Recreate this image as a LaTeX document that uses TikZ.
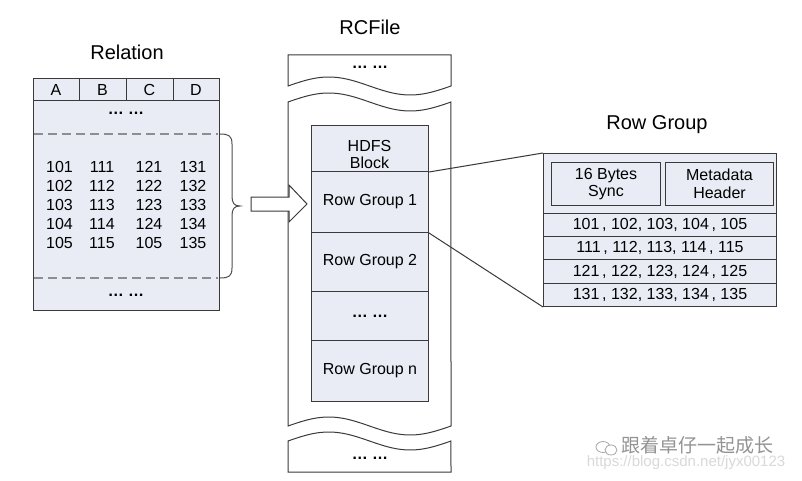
\documentclass[tikz,border=0pt]{standalone}
\usepackage{fontspec}
\setmainfont{Liberation Sans}
\newfontfamily\cjk{Noto Sans CJK SC}
\definecolor{boxfill}{HTML}{E9ECF5}
\definecolor{linec}{HTML}{3A3A3A}
\definecolor{dashc}{HTML}{8E8E8E}
\begin{document}
\begin{tikzpicture}[x=1pt,y=-1pt,
  box/.style={draw=linec, fill=boxfill, line width=1pt, inner sep=0pt, anchor=north west, align=center, font=\fontsize{16}{17.5}\selectfont},
  txt/.style={inner sep=0pt, font=\fontsize{16}{17}\selectfont},
  ttl/.style={inner sep=0pt, font=\fontsize{20}{22}\selectfont},
  dots/.style={inner sep=0pt, font=\fontsize{16}{17}\selectfont\bfseries},
  line/.style={draw=linec, line width=1pt}]
\useasboundingbox (0,0) rectangle (802,481);
\fill[white] (0,0) rectangle (802,481);

% ---------------- Relation ----------------
\node[ttl] (reltitle) at (127,52) {Relation};
\node[box, minimum width=186pt, minimum height=232pt] (rel) at (33,78) {};
\draw[line] (33,101) -- (219,101);
\foreach \x in {79,126,173} \draw[line] (\x,78) -- (\x,101);
\node[txt] (hA) at (56,90) {A};
\node[txt] (hB) at (102.5,90) {B};
\node[txt] (hC) at (149.5,90) {C};
\node[txt] (hD) at (196,90) {D};
\node[dots] (rdots1) at (126,113) {… …};
\draw[dashc, line width=2.5pt, dash pattern=on 9pt off 5pt] (34,134) -- (218,134);
\draw[dashc, line width=2.5pt, dash pattern=on 9pt off 5pt] (34,278) -- (218,278);
\foreach \y/\a/\b/\c/\d in {167/101/111/121/131,186/102/112/122/132,205/103/113/123/133,224/104/114/124/134,243/105/115/105/135}{
  \node[txt] at (59.5,\y) {\a};
  \node[txt] at (102,\y) {\b};
  \node[txt] at (149,\y) {\c};
  \node[txt] at (193,\y) {\d};
}
\node[dots] (rdots2) at (126,295) {… …};
% brace
\draw[line, draw=linec!90] (220,134) .. controls (229,134) and (232,136) .. (232,144) -- (232,196)
  .. controls (232,203) and (234,206) .. (240,206)
  .. controls (234,206) and (232,209) .. (232,216) -- (232,268)
  .. controls (232,276) and (229,278) .. (220,278);

% ---------------- RCFile ----------------
\node[ttl] (rctitle) at (370,27) {RCFile};
% top piece
\draw[line, fill=white] (288,55) -- (451,55) -- (451,86)
  -- plot[domain=1:0, samples=40, smooth] ({288+163*\x},{86-9*sin(360*\x)}) -- cycle;
\node[dots] (tdots) at (370,67) {… …};
% body
\draw[line, fill=white] plot[domain=0:1, samples=40, smooth] ({288+163*\x},{102-9*sin(360*\x)})
  -- (451,426) -- plot[domain=1:0, samples=40, smooth] ({288+163*\x},{426-9*sin(360*\x)}) -- cycle;
% bottom piece
\draw[line, fill=white] plot[domain=0:1, samples=40, smooth] ({288+163*\x},{441-9*sin(360*\x)})
  -- (451,472) -- (288,472) -- cycle;
\node[dots] (bdots) at (370,458) {… …};

\node[box, minimum width=117pt, minimum height=46pt] (hdfs) at (311,125) {};
\node[txt, align=center] (hdfslbl) at (369.5,154) {HDFS\\Block};
\node[box, minimum width=117pt, minimum height=61pt] (rg1) at (311,171) {Row Group 1};
\node[box, minimum width=117pt, minimum height=59pt] (rg2) at (311,232) {Row Group 2};
\node[box, minimum width=117pt, minimum height=49pt, font=\fontsize{16}{17}\selectfont\bfseries] (rgd) at (311,291) {… …};
\node[box, minimum width=117pt, minimum height=61pt] (rgn) at (311,340) {Row Group n};

% arrow
\draw[line, fill=white] (251,197) -- (289,197) -- (289,185) -- (307,204) -- (289,222) -- (289,211) -- (251,211) -- cycle;

% ---------------- Row Group ----------------
\node[ttl] (rgtitle) at (657,125) {Row Group};
\node[box, minimum width=233pt, minimum height=153pt] (rg) at (543,153) {};
\node[box, minimum width=109pt, minimum height=43pt] (sync) at (551,162) {16 Bytes\\Sync};
\node[box, minimum width=108pt, minimum height=43pt] (meta) at (665,162) {Metadata\\Header};
\node[box, minimum width=233pt, minimum height=23pt] (r1) at (543,213) {101\,, 102, 103, 104\,, 105};
\node[box, minimum width=233pt, minimum height=23pt] (r2) at (543,236) {111\,, 112, 113, 114\,, 115};
\node[box, minimum width=233pt, minimum height=24pt] (r3) at (543,259) {121\,, 122, 123, 124\,, 125};
\node[box, minimum width=233pt, minimum height=23pt] (r4) at (543,283) {131\,, 132, 133, 134\,, 135};

% connectors
\draw[line] (hdfs.south east) -- (rg.north west);
\draw[line] (rg1.south east) -- (rg.south west);

% ---------------- watermark ----------------
\draw[gray!70, line width=0.8pt] (603,447) ellipse (7pt and 5.5pt);
\draw[gray!70, line width=0.8pt, fill=white] (611,450) ellipse (6pt and 5pt);
\node[inner sep=0pt, text=gray!85, font=\cjk\fontsize{19}{21}\selectfont] (wm) at (697,445) {跟着卓仔一起成长};
\node[inner sep=0pt, text=gray!30, font=\fontsize{15}{17}\selectfont] (url) at (686,463) {https://blog.csdn.net/jyx00123};
\end{tikzpicture}
\end{document}
